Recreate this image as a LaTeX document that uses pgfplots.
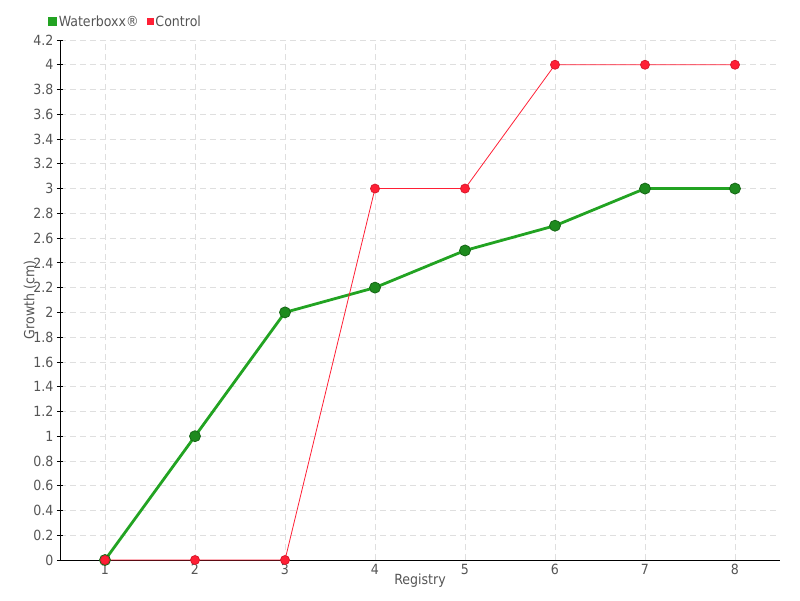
\documentclass[border=0pt]{standalone}
\usepackage{fontspec}
\setmainfont{DejaVu Sans Condensed}
\usepackage{pgfplots}
\pgfplotsset{compat=1.18}
\definecolor{wgreen}{HTML}{22A322}
\definecolor{wgreenm}{HTML}{1E8A1E}
\definecolor{cred}{HTML}{FF1F35}
\definecolor{tgray}{HTML}{555555}
\begin{document}
\begin{tikzpicture}
\useasboundingbox (-60pt,-40pt) rectangle (740pt,560pt);
\begin{axis}[
  scale only axis,
  width=720pt, height=520pt,
  xmin=0.5, xmax=8.5, ymin=0, ymax=4.2,
  axis x line*=bottom, axis y line*=left,
  axis line style={black, thick, -},
  xtick={1,...,8},
  ytick={0,0.2,...,4.21},
  yticklabel style={/pgf/number format/fixed, /pgf/number format/precision=1},
  /pgf/number format/assume math mode=true,
  ticklabel style={font=\fontsize{14pt}{14pt}\selectfont, text=tgray},
  xticklabel style={yshift=2pt},
  major tick length=6pt,
  tick align=center,
  xtick style={draw=none},
  ytick style={black, thick},
  grid=major,
  major grid style={gray!25, line width=0.8pt, dash pattern=on 6pt off 4pt},
  xlabel={Registry}, ylabel={Growth (cm)},
  label style={font=\fontsize{14pt}{14pt}\selectfont, text=tgray},
  xlabel style={at={(axis description cs:0.5,0)}, anchor=center, yshift=-21pt},
  ylabel style={at={(axis description cs:0,0.5)}, anchor=center, yshift=30pt},
  legend style={at={(axis description cs:-0.017,1.035)}, anchor=west, draw=none, fill=none,
    legend columns=-1, font=\fontsize{14pt}{14pt}\selectfont, text=tgray,
    /tikz/every even column/.append style={column sep=6pt}, inner sep=0pt},
  legend cell align=left,
]
\addplot[color=wgreen, line width=2.8pt, mark=*, mark size=5.5pt,
  mark options={fill=wgreenm, draw=wgreenm!75!black, line width=0.8pt},
  legend image code/.code={\fill[wgreen] (0pt,-3pt) rectangle (6pt,3pt);}]
  coordinates {(1,0) (2,1) (3,2) (4,2.2) (5,2.5) (6,2.7) (7,3) (8,3)};
\addlegendentry{Waterboxx®}
\addplot[color=cred, line width=0.8pt, mark=*, mark size=4.5pt,
  mark options={fill=cred, draw=cred!85!black},
  legend image code/.code={\fill[cred] (0pt,-3pt) rectangle (6pt,3pt);}]
  coordinates {(1,0) (2,0) (3,0) (4,3) (5,3) (6,4) (7,4) (8,4)};
\addlegendentry{Control}
\end{axis}
\end{tikzpicture}
\end{document}
